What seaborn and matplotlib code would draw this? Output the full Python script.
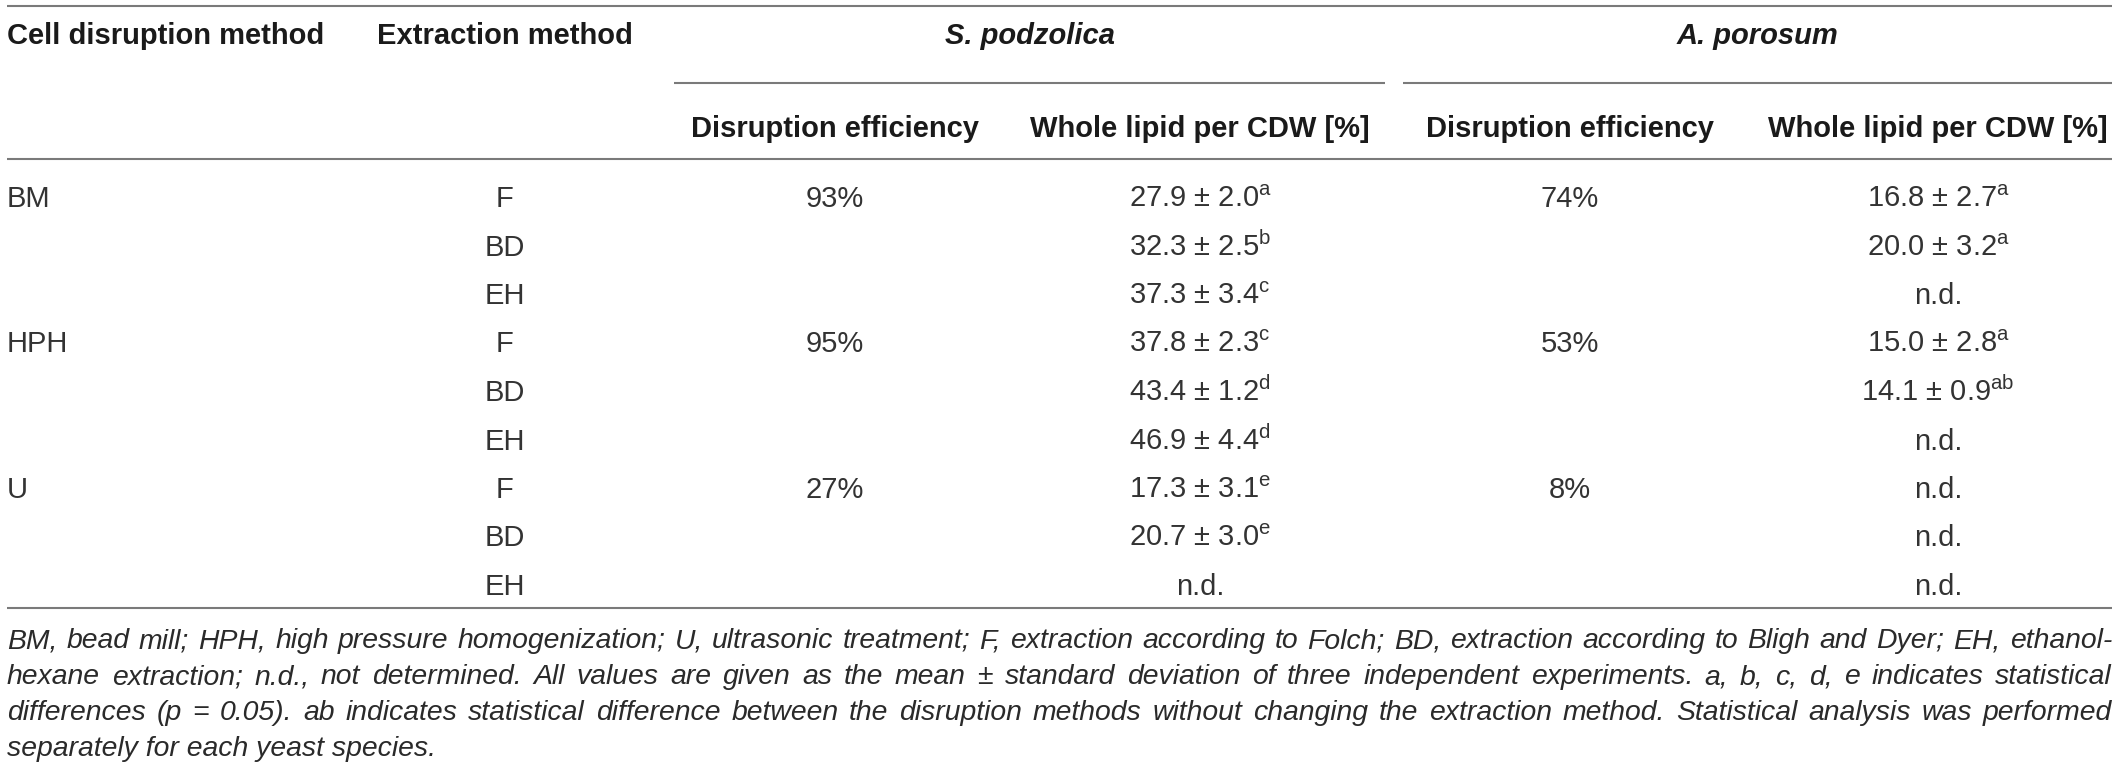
import matplotlib
matplotlib.use("Agg")
import matplotlib.pyplot as plt
import seaborn as sns

# Table content
disruption_methods = ["BM", "", "", "HPH", "", "", "U", "", ""]
extraction_methods = ["F", "BD", "EH", "F", "BD", "EH", "F", "BD", "EH"]

s_efficiency = ["93%", "", "", "95%", "", "", "27%", "", ""]
s_mean = [27.9, 32.3, 37.3, 37.8, 43.4, 46.9, 17.3, 20.7, None]
s_sd = [2.0, 2.5, 3.4, 2.3, 1.2, 4.4, 3.1, 3.0, None]
s_letter = ["a", "b", "c", "c", "d", "d", "e", "e", None]

a_efficiency = ["74%", "", "", "53%", "", "", "8%", "", ""]
a_mean = [16.8, 20.0, None, 15.0, 14.1, None, None, None, None]
a_sd = [2.7, 3.2, None, 2.8, 0.9, None, None, None, None]
a_letter = ["a", "a", None, "a", "ab", None, None, None, None]

species = ["S. podzolica", "A. porosum"]
col_headers = ["Cell disruption method", "Extraction method"]
sub_headers = ["Disruption efficiency", "Whole lipid per CDW [%]"]

footnote = [
    "BM, bead mill; HPH, high pressure homogenization; U, ultrasonic treatment; "
    "F, extraction according to Folch; BD, extraction according to Bligh and Dyer; EH, ethanol-",
    "hexane extraction; n.d., not determined. All values are given as the mean \u00b1 standard "
    "deviation of three independent experiments. a, b, c, d, e indicates statistical",
    "differences (p = 0.05). ab indicates statistical difference between the disruption methods "
    "without changing the extraction method. Statistical analysis was performed",
    "separately for each yeast species.",
]

sns.set_theme(style="white")
plt.rcParams['font.family'] = ['Liberation Sans', 'DejaVu Sans']
plt.rcParams['mathtext.fontset'] = 'custom'
plt.rcParams['mathtext.rm'] = 'Liberation Sans'

W, H = 2118, 769
fig = plt.figure(figsize=(W / 100, H / 100), dpi=100)
ax = fig.add_axes([0, 0, 1, 1])
ax.set_xlim(0, W)
ax.set_ylim(H, 0)
ax.axis('off')

line_kw = dict(color='#7a7a7a', lw=1.5)
head_kw = dict(fontsize=21, fontweight='bold', color='#1a1a1a', va='baseline')
body_kw = dict(fontsize=21, color='#333333', va='baseline')

# rules
ax.hlines(6, 7, 2112, **line_kw)
ax.hlines(83, 674, 1385, **line_kw)
ax.hlines(83, 1403, 2112, **line_kw)
ax.hlines(159, 7, 2112, **line_kw)
ax.hlines(608, 7, 2112, **line_kw)

# headers
ax.text(7, 44, col_headers[0], ha='left', **head_kw)
ax.text(505, 44, col_headers[1], ha='center', **head_kw)
ax.text(1030, 44, species[0], ha='center', style='italic', **head_kw)
ax.text(1757, 44, species[1], ha='center', style='italic', **head_kw)

eff_x = [835, 1570]
lip_x = [1200, 1938]
for ex, lx in zip(eff_x, lip_x):
    ax.text(ex, 137, sub_headers[0], ha='center', **head_kw)
    ax.text(lx, 137, sub_headers[1], ha='center', **head_kw)


def lipid_label(m, s, l):
    if m is None:
        return "n.d."
    return "%.1f \u00b1 %.1f$^{\\mathregular{%s}}$" % (m, s, l)


row_y0, row_dy = 207, 48.5
for i in range(len(extraction_methods)):
    y = row_y0 + i * row_dy
    ax.text(7, y, disruption_methods[i], ha='left', **body_kw)
    ax.text(505, y, extraction_methods[i], ha='center', **body_kw)
    ax.text(eff_x[0], y, s_efficiency[i], ha='center', **body_kw)
    ax.text(lip_x[0], y, lipid_label(s_mean[i], s_sd[i], s_letter[i]), ha='center', **body_kw)
    ax.text(eff_x[1], y, a_efficiency[i], ha='center', **body_kw)
    ax.text(lip_x[1], y, lipid_label(a_mean[i], a_sd[i], a_letter[i]), ha='center', **body_kw)

# footnote, justified like the journal layout
renderer = fig.canvas.get_renderer()
x0, x1 = 7, 2112
probe = ax.text(0, 0, footnote[0], fontsize=18, style='italic')
fs = 18 * (x1 - x0) * 0.985 / probe.get_window_extent(renderer).width
probe.remove()

foot_kw = dict(fontsize=fs, style='italic', color='#2a2a2a', va='baseline', ha='left')
foot_y = [648, 684, 720, 756]
for k, (txt, y) in enumerate(zip(footnote, foot_y)):
    if k == len(footnote) - 1:
        ax.text(x0, y, txt, **foot_kw)
        continue
    words = txt.split(' ')
    items = [ax.text(0, y, w, **foot_kw) for w in words]
    widths = [t.get_window_extent(renderer).width for t in items]
    gap = (x1 - x0 - sum(widths)) / (len(words) - 1)
    x = x0
    for t, w in zip(items, widths):
        t.set_x(x)
        x += w + gap

fig.savefig("out.png", dpi=100, facecolor='white')
